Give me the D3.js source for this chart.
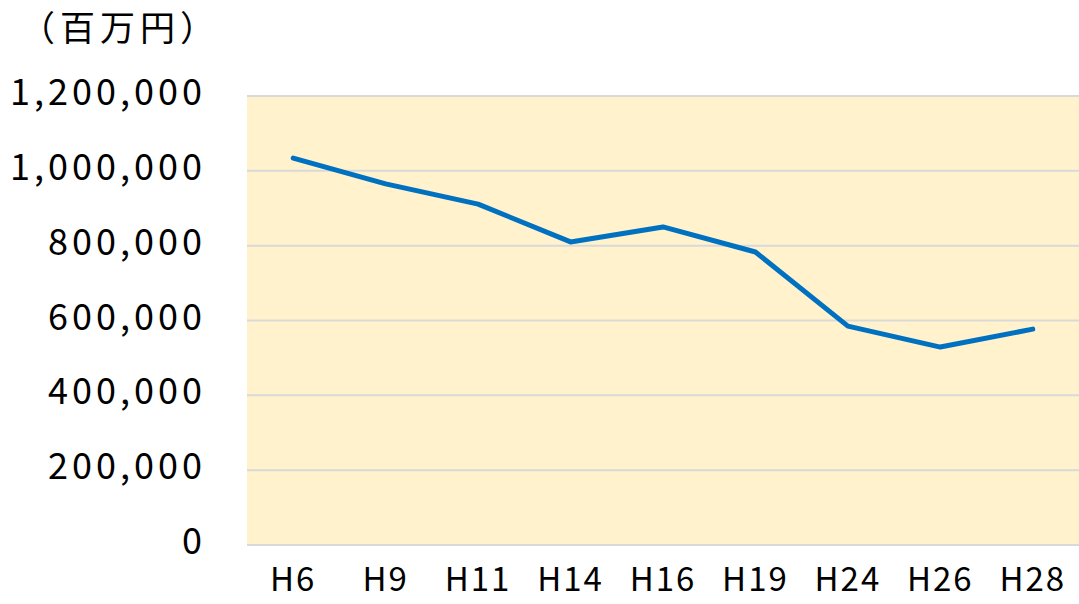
<!DOCTYPE html>
<html>
<head>
<meta charset="utf-8">
<script src="https://cdn.jsdelivr.net/npm/d3@7"></script>
<style>
  body { margin: 0; background: #fff; }
  text { font-family: "Noto Sans CJK JP", "Noto Sans", sans-serif; fill: #000; }
</style>
</head>
<body>
<svg width="1079" height="604"></svg>
<script>
var years = ["H6", "H9", "H11", "H14", "H16", "H19", "H24", "H26", "H28"];
var amounts = [1034000, 965000, 911000, 810000, 850000, 783000, 585000, 529000, 577000];
var yTicks = [0, 200000, 400000, 600000, 800000, 1000000, 1200000];
var unitLabel = "（百万円）";

var svg = d3.select("svg"),
    margin = {top: 96, right: 0, bottom: 59, left: 247},
    width = +svg.attr("width") - margin.left - margin.right,
    height = +svg.attr("height") - margin.top - margin.bottom;

var x = d3.scaleBand().domain(years).range([0, width]).padding(0),
    y = d3.scaleLinear().domain([0, 1200000]).range([height, 0]);

var g = svg.append("g")
    .attr("transform", "translate(" + margin.left + "," + margin.top + ")");

g.append("rect")
    .attr("width", width)
    .attr("height", height)
    .attr("fill", "#fff2cc");

// gridlines
g.selectAll(".grid")
  .data(yTicks)
  .enter().append("line")
    .attr("x1", 0)
    .attr("x2", width)
    .attr("y1", function(d) { return y(d); })
    .attr("y2", function(d) { return y(d); })
    .attr("stroke", "#d9d9d9")
    .attr("stroke-width", 2);

var fmt = d3.format(",");

g.append("g")
    .call(d3.axisLeft(y).tickValues(yTicks).tickFormat(fmt).tickSize(0).tickPadding(41))
    .call(function(a) { a.select(".domain").remove(); })
    .selectAll("text")
      .attr("font-size", 36)
      .attr("letter-spacing", 4)
      .attr("dy", "0.24em");

// x labels kept a bit smaller so they stay inside the picture
g.append("g")
    .attr("transform", "translate(0," + height + ")")
    .call(d3.axisBottom(x).tickSize(0).tickPadding(23))
    .call(function(a) { a.select(".domain").remove(); })
    .selectAll("text")
      .attr("font-size", 33)
      .attr("letter-spacing", 2);

var line = d3.line()
    .x(function(d, i) { return x(years[i]) + x.bandwidth() / 2; })
    .y(function(d) { return y(d); });

g.append("path")
    .datum(amounts)
    .attr("fill", "none")
    .attr("stroke", "#0070c0")
    .attr("stroke-width", 5)
    .attr("stroke-linecap", "round")
    .attr("stroke-linejoin", "round")
    .attr("d", line);

svg.append("text")
    .attr("x", 20)
    .attr("y", 41)
    .attr("font-size", 35)
    .attr("letter-spacing", 5)
    .text(unitLabel);
</script>
</body>
</html>
